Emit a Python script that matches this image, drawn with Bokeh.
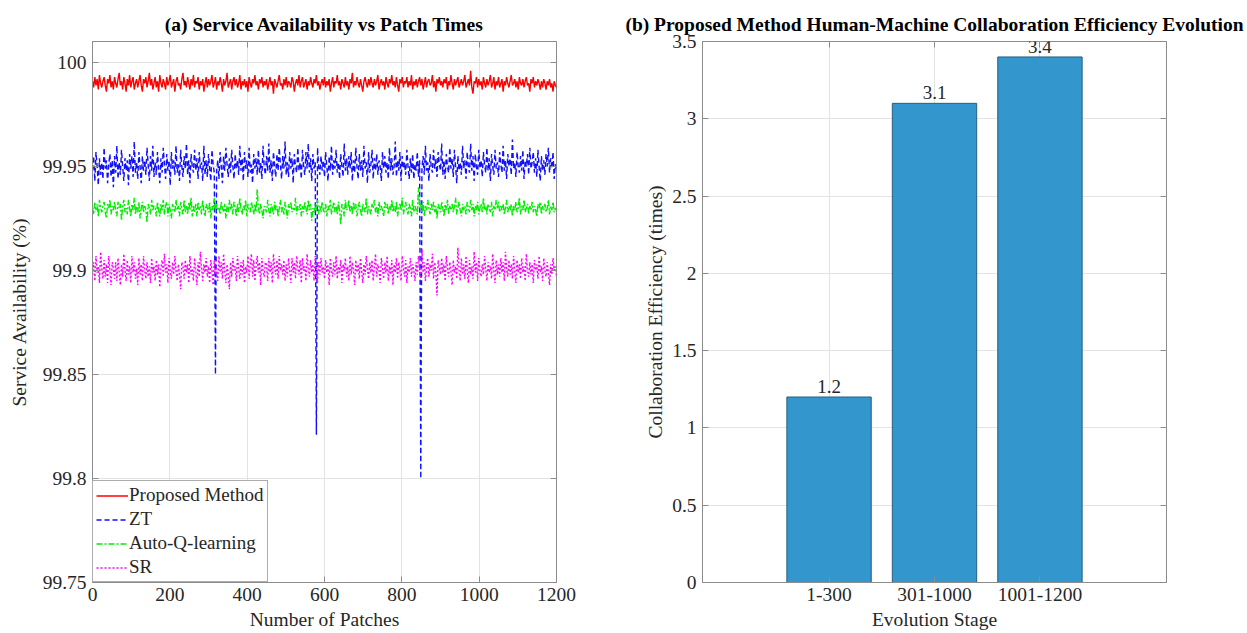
from bokeh.plotting import figure
from bokeh.models import Legend, LegendItem, LinearAxis, FixedTicker, Range1d
from bokeh.layouts import row
from bokeh.embed import file_html
from bokeh.resources import INLINE
from bokeh.core.properties import value

FONT = "Liberation Serif"

# ---------------- data (a) ----------------
patches = list(range(0, 1201, 3))

proposed = [
    99.991, 99.988, 99.993, 99.989, 99.992, 99.987, 99.994, 99.990, 99.988, 99.991,
    99.993, 99.989, 99.986, 99.992, 99.990, 99.994, 99.988, 99.991, 99.987, 99.993,
    99.990, 99.988, 99.992, 99.995, 99.989, 99.991, 99.987, 99.993, 99.990, 99.986,
    99.992, 99.989, 99.994, 99.988, 99.991, 99.993, 99.987, 99.990, 99.992, 99.988,
    99.991, 99.994, 99.989, 99.986, 99.992, 99.990, 99.993, 99.988, 99.991, 99.995,
    99.989, 99.992, 99.987, 99.990, 99.993, 99.988, 99.991, 99.986, 99.994, 99.990,
    99.988, 99.992, 99.990, 99.987, 99.993, 99.989, 99.991, 99.994, 99.988, 99.990,
    99.992, 99.986, 99.991, 99.993, 99.989, 99.990, 99.987, 99.992, 99.995, 99.989,
    99.991, 99.988, 99.993, 99.990, 99.987, 99.992, 99.989, 99.994, 99.988, 99.991,
    99.990, 99.993, 99.987, 99.991, 99.989, 99.992, 99.986, 99.990, 99.993, 99.988,
    99.992, 99.989, 99.991, 99.994, 99.988, 99.990, 99.993, 99.987, 99.991, 99.989,
    99.993, 99.990, 99.986, 99.992, 99.989, 99.991, 99.995, 99.988, 99.990, 99.992,
    99.987, 99.991, 99.993, 99.989, 99.992, 99.988, 99.990, 99.994, 99.987, 99.991,
    99.989, 99.992, 99.988, 99.991, 99.986, 99.993, 99.990, 99.988, 99.992, 99.990,
    99.994, 99.989, 99.991, 99.987, 99.992, 99.990, 99.993, 99.988, 99.991, 99.989,
    99.992, 99.987, 99.990, 99.993, 99.989, 99.991, 99.985, 99.992, 99.990, 99.988,
    99.991, 99.994, 99.989, 99.990, 99.987, 99.992, 99.989, 99.993, 99.988, 99.991,
    99.990, 99.988, 99.993, 99.991, 99.986, 99.990, 99.992, 99.989, 99.994, 99.988,
    99.991, 99.993, 99.988, 99.990, 99.992, 99.987, 99.991, 99.989, 99.993, 99.990,
    99.988, 99.992, 99.990, 99.994, 99.989, 99.991, 99.987, 99.990, 99.992, 99.989,
    99.993, 99.988, 99.991, 99.989, 99.992, 99.986, 99.990, 99.993, 99.988, 99.991,
    99.990, 99.994, 99.989, 99.991, 99.987, 99.992, 99.990, 99.988, 99.993, 99.989,
    99.991, 99.987, 99.992, 99.990, 99.995, 99.988, 99.991, 99.989, 99.993, 99.990,
    99.988, 99.992, 99.989, 99.986, 99.991, 99.993, 99.990, 99.988, 99.992, 99.989,
    99.993, 99.990, 99.988, 99.992, 99.989, 99.991, 99.994, 99.987, 99.990, 99.992,
    99.989, 99.991, 99.987, 99.993, 99.990, 99.988, 99.992, 99.990, 99.994, 99.989,
    99.991, 99.988, 99.993, 99.989, 99.986, 99.992, 99.990, 99.993, 99.988, 99.991,
    99.990, 99.993, 99.988, 99.991, 99.989, 99.994, 99.987, 99.991, 99.989, 99.992,
    99.988, 99.991, 99.993, 99.989, 99.992, 99.987, 99.990, 99.993, 99.988, 99.991,
    99.992, 99.989, 99.990, 99.994, 99.988, 99.991, 99.986, 99.992, 99.990, 99.993,
    99.989, 99.991, 99.988, 99.992, 99.990, 99.993, 99.987, 99.991, 99.989, 99.994,
    99.990, 99.987, 99.992, 99.989, 99.991, 99.993, 99.988, 99.990, 99.992, 99.989,
    99.991, 99.994, 99.988, 99.990, 99.992, 99.989, 99.996, 99.988, 99.985, 99.991,
    99.990, 99.993, 99.988, 99.992, 99.989, 99.991, 99.987, 99.993, 99.990, 99.988,
    99.992, 99.989, 99.991, 99.994, 99.988, 99.990, 99.993, 99.987, 99.991, 99.989,
    99.993, 99.988, 99.990, 99.992, 99.986, 99.991, 99.989, 99.993, 99.990, 99.988,
    99.991, 99.994, 99.989, 99.990, 99.992, 99.988, 99.991, 99.987, 99.993, 99.990,
    99.989, 99.992, 99.988, 99.991, 99.993, 99.989, 99.990, 99.986, 99.992, 99.990,
    99.993, 99.988, 99.991, 99.989, 99.992, 99.990, 99.987, 99.991, 99.988, 99.992,
    99.990, 99.987, 99.991, 99.989, 99.992, 99.988, 99.990, 99.986, 99.991, 99.989,
    99.988,
]

zt = [
    99.948, 99.955, 99.943, 99.957, 99.950, 99.941, 99.954, 99.946, 99.952, 99.944,
    99.959, 99.949, 99.953, 99.942, 99.951, 99.956, 99.945, 99.953, 99.940, 99.955,
    99.947, 99.960, 99.944, 99.952, 99.946, 99.958, 99.950, 99.943, 99.954, 99.948,
    99.953, 99.941, 99.956, 99.949, 99.955, 99.945, 99.962, 99.947, 99.952, 99.944,
    99.957, 99.950, 99.942, 99.955, 99.948, 99.953, 99.946, 99.959, 99.951, 99.943,
    99.955, 99.948, 99.960, 99.945, 99.952, 99.946, 99.957, 99.949, 99.942, 99.954,
    99.947, 99.959, 99.951, 99.944, 99.956, 99.948, 99.953, 99.941, 99.957, 99.949,
    99.953, 99.946, 99.960, 99.947, 99.951, 99.943, 99.958, 99.950, 99.945, 99.955,
    99.949, 99.961, 99.946, 99.953, 99.942, 99.956, 99.950, 99.947, 99.958, 99.948,
    99.954, 99.944, 99.957, 99.949, 99.952, 99.943, 99.960, 99.946, 99.953, 99.945,
    99.956, 99.949, 99.943, 99.958, 99.951, 99.947, 99.850, 99.948, 99.953, 99.944,
    99.957, 99.950, 99.942, 99.955, 99.948, 99.959, 99.951, 99.945, 99.954, 99.947,
    99.958, 99.950, 99.944, 99.956, 99.949, 99.953, 99.946, 99.960, 99.948, 99.954,
    99.943, 99.957, 99.949, 99.953, 99.945, 99.959, 99.947, 99.951, 99.942, 99.956,
    99.949, 99.954, 99.946, 99.958, 99.947, 99.952, 99.944, 99.960, 99.950, 99.946,
    99.955, 99.948, 99.961, 99.947, 99.953, 99.943, 99.957, 99.950, 99.945, 99.956,
    99.948, 99.959, 99.951, 99.944, 99.955, 99.949, 99.962, 99.946, 99.952, 99.945,
    99.957, 99.949, 99.954, 99.942, 99.956, 99.950, 99.947, 99.959, 99.948, 99.952,
    99.944, 99.958, 99.950, 99.946, 99.957, 99.949, 99.961, 99.947, 99.954, 99.943,
    99.956, 99.949, 99.952, 99.821, 99.959, 99.950, 99.946, 99.955, 99.948, 99.953,
    99.945, 99.957, 99.950, 99.943, 99.955, 99.948, 99.960, 99.946, 99.953, 99.949,
    99.958, 99.947, 99.952, 99.944, 99.956, 99.950, 99.945, 99.961, 99.948, 99.954,
    99.946, 99.955, 99.949, 99.957, 99.943, 99.953, 99.947, 99.959, 99.950, 99.944,
    99.956, 99.948, 99.953, 99.945, 99.960, 99.949, 99.952, 99.942, 99.957, 99.947,
    99.951, 99.958, 99.944, 99.954, 99.948, 99.956, 99.946, 99.953, 99.950, 99.943,
    99.957, 99.949, 99.955, 99.947, 99.952, 99.944, 99.959, 99.948, 99.954, 99.946,
    99.950, 99.962, 99.945, 99.953, 99.948, 99.957, 99.943, 99.955, 99.949, 99.952,
    99.946, 99.958, 99.950, 99.944, 99.954, 99.947, 99.956, 99.944, 99.951, 99.948,
    99.957, 99.945, 99.953, 99.800, 99.949, 99.955, 99.946, 99.960, 99.948, 99.952,
    99.943, 99.956, 99.950, 99.947, 99.958, 99.949, 99.954, 99.945, 99.957, 99.951,
    99.948, 99.961, 99.946, 99.953, 99.944, 99.956, 99.950, 99.947, 99.959, 99.949,
    99.954, 99.945, 99.958, 99.950, 99.942, 99.955, 99.948, 99.952, 99.946, 99.960,
    99.949, 99.953, 99.944, 99.957, 99.950, 99.947, 99.961, 99.948, 99.955, 99.943,
    99.956, 99.950, 99.946, 99.958, 99.949, 99.953, 99.945, 99.957, 99.951, 99.947,
    99.959, 99.948, 99.954, 99.943, 99.956, 99.950, 99.946, 99.958, 99.949, 99.952,
    99.945, 99.957, 99.951, 99.947, 99.960, 99.948, 99.953, 99.944, 99.956, 99.950,
    99.954, 99.946, 99.963, 99.949, 99.952, 99.945, 99.957, 99.950, 99.947, 99.955,
    99.948, 99.958, 99.944, 99.953, 99.950, 99.956, 99.946, 99.959, 99.949, 99.952,
    99.957, 99.947, 99.954, 99.945, 99.958, 99.950, 99.943, 99.955, 99.948, 99.953,
    99.946, 99.956, 99.950, 99.959, 99.947, 99.954, 99.949, 99.957, 99.944, 99.951,
    99.948,
]

autoq = [
    99.930, 99.927, 99.933, 99.929, 99.932, 99.926, 99.934, 99.930, 99.928, 99.931,
    99.933, 99.928, 99.925, 99.932, 99.930, 99.934, 99.927, 99.931, 99.929, 99.933,
    99.929, 99.926, 99.933, 99.930, 99.932, 99.924, 99.931, 99.934, 99.928, 99.930,
    99.927, 99.934, 99.930, 99.926, 99.932, 99.929, 99.935, 99.927, 99.931, 99.928,
    99.933, 99.925, 99.930, 99.933, 99.928, 99.931, 99.929, 99.923, 99.932, 99.930,
    99.927, 99.934, 99.929, 99.931, 99.930, 99.926, 99.933, 99.929, 99.926, 99.932,
    99.929, 99.934, 99.927, 99.931, 99.933, 99.926, 99.932, 99.929, 99.925, 99.932,
    99.930, 99.928, 99.934, 99.929, 99.931, 99.926, 99.933, 99.930, 99.927, 99.934,
    99.928, 99.931, 99.927, 99.933, 99.929, 99.935, 99.926, 99.931, 99.928, 99.932,
    99.926, 99.933, 99.929, 99.931, 99.927, 99.934, 99.929, 99.926, 99.932, 99.930,
    99.928, 99.933, 99.925, 99.931, 99.929, 99.935, 99.928, 99.932, 99.929, 99.930,
    99.927, 99.933, 99.930, 99.928, 99.932, 99.925, 99.931, 99.928, 99.934, 99.929,
    99.932, 99.927, 99.933, 99.930, 99.926, 99.932, 99.928, 99.935, 99.930, 99.927,
    99.931, 99.929, 99.934, 99.926, 99.932, 99.929, 99.928, 99.933, 99.930, 99.927,
    99.932, 99.928, 99.939, 99.930, 99.927, 99.932, 99.929, 99.925, 99.931, 99.930,
    99.928, 99.934, 99.929, 99.926, 99.932, 99.930, 99.927, 99.933, 99.929, 99.931,
    99.926, 99.930, 99.934, 99.928, 99.931, 99.927, 99.933, 99.929, 99.925, 99.932,
    99.930, 99.933, 99.928, 99.930, 99.929, 99.935, 99.927, 99.931, 99.929, 99.932,
    99.926, 99.931, 99.928, 99.933, 99.930, 99.927, 99.934, 99.929, 99.932, 99.924,
    99.930, 99.928, 99.932, 99.929, 99.934, 99.927, 99.931, 99.928, 99.933, 99.929,
    99.928, 99.932, 99.926, 99.931, 99.929, 99.934, 99.927, 99.930, 99.933, 99.928,
    99.931, 99.927, 99.933, 99.929, 99.922, 99.932, 99.930, 99.926, 99.934, 99.929,
    99.930, 99.934, 99.928, 99.931, 99.927, 99.933, 99.929, 99.932, 99.926, 99.930,
    99.933, 99.929, 99.926, 99.932, 99.930, 99.928, 99.935, 99.927, 99.931, 99.929,
    99.927, 99.932, 99.930, 99.934, 99.928, 99.931, 99.926, 99.933, 99.929, 99.931,
    99.929, 99.926, 99.933, 99.930, 99.932, 99.927, 99.931, 99.929, 99.934, 99.928,
    99.931, 99.928, 99.933, 99.926, 99.930, 99.932, 99.929, 99.935, 99.927, 99.930,
    99.933, 99.929, 99.927, 99.932, 99.930, 99.926, 99.934, 99.928, 99.931, 99.929,
    99.927, 99.940, 99.930, 99.932, 99.928, 99.933, 99.926, 99.931, 99.929, 99.934,
    99.930, 99.927, 99.932, 99.929, 99.933, 99.928, 99.931, 99.925, 99.932, 99.930,
    99.928, 99.933, 99.930, 99.926, 99.932, 99.929, 99.934, 99.927, 99.931, 99.929,
    99.932, 99.928, 99.931, 99.935, 99.927, 99.930, 99.933, 99.929, 99.926, 99.932,
    99.929, 99.931, 99.927, 99.933, 99.930, 99.928, 99.934, 99.929, 99.932, 99.926,
    99.931, 99.929, 99.933, 99.927, 99.930, 99.932, 99.928, 99.935, 99.929, 99.931,
    99.927, 99.932, 99.930, 99.928, 99.933, 99.926, 99.931, 99.929, 99.934, 99.930,
    99.933, 99.928, 99.931, 99.929, 99.932, 99.927, 99.930, 99.934, 99.928, 99.931,
    99.929, 99.932, 99.926, 99.931, 99.929, 99.933, 99.928, 99.930, 99.935, 99.927,
    99.931, 99.929, 99.934, 99.928, 99.930, 99.932, 99.927, 99.931, 99.929, 99.933,
    99.928, 99.931, 99.929, 99.926, 99.932, 99.930, 99.933, 99.927, 99.931, 99.929,
    99.932, 99.928, 99.930, 99.934, 99.927, 99.931, 99.929, 99.933, 99.928, 99.930,
    99.929,
]

sr = [
    99.898, 99.904, 99.895, 99.907, 99.899, 99.902, 99.894, 99.909, 99.901, 99.896,
    99.905, 99.897, 99.903, 99.894, 99.907, 99.900, 99.893, 99.904, 99.901, 99.896,
    99.904, 99.895, 99.906, 99.899, 99.893, 99.903, 99.897, 99.908, 99.900, 99.895,
    99.905, 99.898, 99.902, 99.894, 99.907, 99.899, 99.904, 99.896, 99.901, 99.893,
    99.906, 99.898, 99.903, 99.895, 99.907, 99.900, 99.896, 99.904, 99.897, 99.902,
    99.894, 99.906, 99.899, 99.902, 99.895, 99.905, 99.898, 99.903, 99.892, 99.901,
    99.905, 99.897, 99.908, 99.899, 99.903, 99.894, 99.906, 99.900, 99.896, 99.904,
    99.898, 99.907, 99.900, 99.895, 99.903, 99.898, 99.891, 99.904, 99.902, 99.896,
    99.905, 99.899, 99.903, 99.894, 99.907, 99.898, 99.901, 99.895, 99.906, 99.900,
    99.893, 99.904, 99.897, 99.909, 99.901, 99.895, 99.903, 99.899, 99.906, 99.897,
    99.902, 99.894, 99.905, 99.900, 99.893, 99.905, 99.898, 99.901, 99.895, 99.907,
    99.899, 99.904, 99.896, 99.908, 99.900, 99.894, 99.903, 99.898, 99.891, 99.904,
    99.897, 99.906, 99.900, 99.902, 99.895, 99.907, 99.901, 99.896, 99.904, 99.898,
    99.905, 99.894, 99.902, 99.899, 99.907, 99.896, 99.903, 99.908, 99.897, 99.905,
    99.895, 99.902, 99.907, 99.899, 99.904, 99.893, 99.906, 99.900, 99.897, 99.904,
    99.903, 99.895, 99.906, 99.899, 99.904, 99.894, 99.908, 99.901, 99.898, 99.905,
    99.896, 99.907, 99.900, 99.903, 99.898, 99.905, 99.895, 99.903, 99.897, 99.906,
    99.900, 99.894, 99.906, 99.899, 99.904, 99.896, 99.907, 99.901, 99.898, 99.905,
    99.894, 99.906, 99.900, 99.902, 99.895, 99.908, 99.901, 99.897, 99.905, 99.899,
    99.903, 99.895, 99.907, 99.900, 99.894, 99.904, 99.898, 99.906, 99.899, 99.902,
    99.896, 99.905, 99.899, 99.903, 99.893, 99.906, 99.900, 99.897, 99.904, 99.898,
    99.907, 99.896, 99.902, 99.899, 99.905, 99.894, 99.903, 99.900, 99.906, 99.897,
    99.902, 99.895, 99.907, 99.898, 99.904, 99.900, 99.893, 99.905, 99.899, 99.903,
    99.896, 99.906, 99.900, 99.894, 99.903, 99.898, 99.907, 99.901, 99.896, 99.904,
    99.899, 99.905, 99.895, 99.902, 99.908, 99.897, 99.903, 99.900, 99.894, 99.906,
    99.901, 99.896, 99.904, 99.899, 99.907, 99.895, 99.902, 99.898, 99.905, 99.893,
    99.903, 99.899, 99.906, 99.896, 99.904, 99.900, 99.895, 99.907, 99.901, 99.897,
    99.905, 99.894, 99.902, 99.899, 99.906, 99.897, 99.903, 99.900, 99.895, 99.904,
    99.898, 99.907, 99.901, 99.896, 99.910, 99.899, 99.904, 99.895, 99.902, 99.906,
    99.897, 99.903, 99.900, 99.908, 99.896, 99.904, 99.899, 99.888, 99.905, 99.901,
    99.898, 99.906, 99.899, 99.903, 99.895, 99.907, 99.901, 99.897, 99.904, 99.900,
    99.893, 99.905, 99.899, 99.902, 99.896, 99.911, 99.900, 99.895, 99.906, 99.898,
    99.903, 99.896, 99.907, 99.900, 99.894, 99.905, 99.898, 99.902, 99.896, 99.909,
    99.899, 99.904, 99.895, 99.906, 99.900, 99.897, 99.903, 99.898, 99.907, 99.901,
    99.895, 99.904, 99.899, 99.902, 99.896, 99.908, 99.900, 99.894, 99.905, 99.898,
    99.903, 99.897, 99.906, 99.899, 99.904, 99.895, 99.909, 99.901, 99.897, 99.905,
    99.898, 99.903, 99.896, 99.907, 99.900, 99.894, 99.905, 99.899, 99.903, 99.896,
    99.906, 99.899, 99.902, 99.895, 99.908, 99.900, 99.897, 99.904, 99.898, 99.903,
    99.894, 99.905, 99.900, 99.903, 99.896, 99.907, 99.899, 99.902, 99.895, 99.906,
    99.900, 99.897, 99.904, 99.899, 99.893, 99.903, 99.898, 99.906, 99.900, 99.902,
    99.897,
]

series_names = ["Proposed Method", "ZT", "Auto-Q-learning", "SR"]
avail_ticks = [99.75, 99.8, 99.85, 99.9, 99.95, 100]
patch_ticks = [0, 200, 400, 600, 800, 1000, 1200]

# ---------------- data (b) ----------------
stages = ["1-300", "301-1000", "1001-1200"]
stage_pos = [1, 2, 3]
efficiency = [1.2, 3.1, 3.4]
eff_ticks = [0, 0.5, 1, 1.5, 2, 2.5, 3, 3.5]

TEXT = "#262626"
AXC = "#8c8c8c"


def style(p):
    p.outline_line_color = AXC
    p.outline_line_width = 1
    p.background_fill_color = "white"
    p.border_fill_color = "white"
    p.grid.grid_line_color = "#e3e3e3"
    p.grid.grid_line_width = 1
    for ax in p.axis:
        ax.axis_line_color = AXC
        ax.major_tick_line_color = AXC
        ax.major_tick_in = 6
        ax.major_tick_out = 0
        ax.minor_tick_line_color = None
        ax.major_label_text_font = FONT
        ax.major_label_text_font_size = "19.5px"
        ax.major_label_text_color = TEXT
        ax.axis_label_text_font = FONT
        ax.axis_label_text_font_size = "19.5px"
        ax.axis_label_text_font_style = "normal"
        ax.axis_label_text_color = TEXT
    p.title.text_font = FONT
    p.title.text_font_size = "19.5px"
    p.title.text_font_style = "bold"
    p.title.text_color = "black"
    p.title.align = "center"
    p.title.standoff = 14


def box_axes(p, xt, yt):
    for loc, ticks in (("right", yt), ("above", xt)):
        ax = LinearAxis(ticker=FixedTicker(ticks=ticks))
        ax.major_label_text_font_size = "1px"
        ax.major_label_text_color = None
        ax.major_label_standoff = 0
        ax.axis_line_color = None
        ax.major_tick_line_color = AXC
        ax.major_tick_in = 6
        ax.major_tick_out = 0
        ax.minor_tick_line_color = None
        p.add_layout(ax, loc)


# ---------------- panel (a) ----------------
p1 = figure(frame_width=464, frame_height=541,
            min_border_left=92, min_border_right=64, min_border_top=41, min_border_bottom=51,
            x_range=Range1d(0, 1200), y_range=Range1d(99.75, 100.0101),
            output_backend="svg", toolbar_location=None,
            title="(a) Service Availability vs Patch Times",
            x_axis_label="Number of Patches", y_axis_label="Service Availability (%)")
p1.xaxis.ticker = FixedTicker(ticks=patch_ticks)
p1.yaxis.ticker = FixedTicker(ticks=avail_ticks)
p1.yaxis.major_label_overrides = {100: "100", 99.9: "99.9", 99.8: "99.8"}
style(p1)
box_axes(p1, patch_ticks, avail_ticks)
p1.xaxis[0].major_label_standoff = 5
p1.xaxis[0].axis_label_standoff = 0
p1.yaxis[0].major_label_standoff = 6
p1.yaxis[0].axis_label_standoff = 10

r1 = p1.line(patches[:len(proposed)], proposed, line_color="#ff0000", line_width=1.4)
r2 = p1.line(patches[:len(zt)], zt, line_color="#1010ff", line_width=1.4, line_dash="5 3")
r3 = p1.line(patches[:len(autoq)], autoq, line_color="#00ee00", line_width=1.4, line_dash="6 2 2 2")
r4 = p1.line(patches[:len(sr)], sr, line_color="#ff00ff", line_width=1.4, line_dash="2 2")

legend = Legend(items=[LegendItem(label=series_names[i], renderers=[r])
                       for i, r in enumerate([r1, r2, r3, r4])],
                location="bottom_left")
legend.margin = 0
legend.padding = 3
legend.spacing = 2
legend.glyph_width = 32
legend.glyph_height = 21
legend.label_height = 21
legend.label_standoff = 1
legend.label_text_font = FONT
legend.label_text_font_size = "19px"
legend.label_text_color = TEXT
legend.border_line_color = "#5a5a5a"
legend.border_line_width = 1
legend.background_fill_color = "white"
legend.background_fill_alpha = 1
p1.add_layout(legend, "center")

# ---------------- panel (b) ----------------
p2 = figure(frame_width=464, frame_height=541,
            min_border_left=82, min_border_right=81, min_border_top=41, min_border_bottom=51,
            x_range=Range1d(-0.2, 4.2), y_range=Range1d(0, 3.5),
            output_backend="svg", toolbar_location=None,
            title="(b) Proposed Method Human-Machine Collaboration Efficiency Evolution",
            x_axis_label="Evolution Stage", y_axis_label="Collaboration Efficiency (times)")
p2.xaxis.ticker = FixedTicker(ticks=stage_pos)
p2.xaxis.major_label_overrides = {pos: s for pos, s in zip(stage_pos, stages)}
p2.yaxis.ticker = FixedTicker(ticks=eff_ticks)
p2.yaxis.major_label_overrides = {0: "0", 1: "1", 2: "2", 3: "3"}
style(p2)
box_axes(p2, stage_pos, eff_ticks)
p2.xaxis[0].major_label_standoff = 8
p2.xaxis[0].axis_label_standoff = 6
p2.yaxis[0].major_label_standoff = 6
p2.yaxis[0].axis_label_standoff = 3

p2.vbar(x=stage_pos, top=efficiency, width=0.8, bottom=0,
        fill_color="#3396cc", line_color="#245f82", line_width=1)
p2.text(x=stage_pos, y=efficiency, text=[f"{v:.1f}" for v in efficiency],
        text_align="center", text_baseline="bottom", y_offset=-4,
        text_font=value(FONT), text_font_size="19px", text_color=TEXT)

layout = row(p1, p2)
open("out.html", "w").write(file_html(layout, INLINE))
